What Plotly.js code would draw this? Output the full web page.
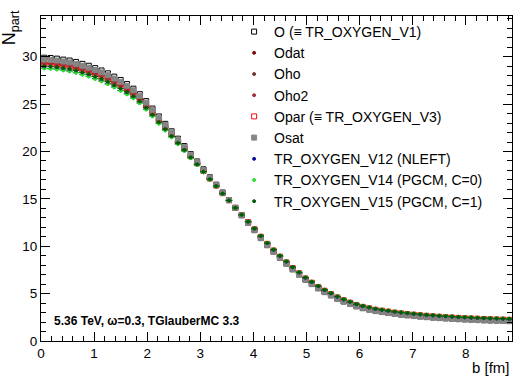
<!DOCTYPE html>
<html>
<head>
<meta charset="utf-8">
<script src="https://cdn.plot.ly/plotly-3.0.1.min.js"></script>
<style>
  html, body { margin: 0; padding: 0; background: #fff; }
  #plot { width: 523px; height: 379px; }
</style>
</head>
<body>
<div id="plot"></div>
<script>
// bin centres of b [fm]
const bCentres = [0.06,0.18,0.30,0.42,0.54,0.66,0.78,0.90,1.02,1.14,1.26,1.38,1.50,1.62,1.74,1.86,1.98,2.10,2.22,2.34,2.46,2.58,2.70,2.82,2.94,3.06,3.18,3.30,3.42,3.54,3.66,3.78,3.90,4.02,4.14,4.26,4.38,4.50,4.62,4.74,4.86,4.98,5.10,5.22,5.34,5.46,5.58,5.70,5.82,5.94,6.06,6.18,6.30,6.42,6.54,6.66,6.78,6.90,7.02,7.14,7.26,7.38,7.50,7.62,7.74,7.86,7.98,8.10,8.22,8.34,8.46,8.58,8.70,8.82];

const npartO = [29.90,29.87,29.80,29.70,29.60,29.45,29.25,29.05,28.80,28.55,28.25,27.90,27.55,27.12,26.63,26.05,25.32,24.53,23.70,22.92,22.13,21.35,20.57,19.73,18.95,18.12,17.28,16.50,15.67,14.88,14.05,13.27,12.49,11.71,10.88,10.13,9.43,8.78,8.18,7.58,7.03,6.48,6.03,5.58,5.18,4.83,4.48,4.18,3.93,3.68,3.48,3.33,3.18,3.08,2.98,2.88,2.80,2.73,2.66,2.60,2.54,2.49,2.44,2.40,2.36,2.32,2.29,2.26,2.23,2.20,2.18,2.16,2.14,2.12];
const npartOdat = [29.33,29.30,29.23,29.13,29.03,28.88,28.68,28.48,28.23,27.98,27.68,27.33,26.98,26.58,26.13,25.57,24.87,24.12,23.32,22.57,21.82,21.07,20.31,19.51,18.76,17.96,17.16,16.41,15.60,14.85,14.05,13.30,12.55,11.80,11.00,10.25,9.55,8.90,8.30,7.70,7.15,6.60,6.15,5.70,5.30,4.95,4.60,4.30,4.05,3.80,3.60,3.45,3.30,3.20,3.10,3.00,2.92,2.85,2.78,2.72,2.66,2.61,2.56,2.52,2.48,2.44,2.41,2.38,2.35,2.32,2.30,2.28,2.26,2.24];
const npartOho = [29.40,29.37,29.30,29.20,29.10,28.95,28.75,28.55,28.30,28.05,27.75,27.40,27.05,26.64,26.19,25.63,24.93,24.17,23.37,22.61,21.86,21.10,20.34,19.54,18.78,17.98,17.17,16.42,15.61,14.86,14.05,13.29,12.53,11.78,10.97,10.22,9.52,8.87,8.27,7.67,7.12,6.57,6.12,5.67,5.27,4.92,4.57,4.27,4.02,3.77,3.57,3.42,3.27,3.17,3.07,2.97,2.89,2.82,2.75,2.69,2.63,2.58,2.53,2.49,2.45,2.41,2.38,2.35,2.32,2.29,2.27,2.25,2.23,2.21];
const npartOho2 = [29.24,29.21,29.14,29.04,28.94,28.79,28.59,28.39,28.14,27.89,27.59,27.24,26.89,26.49,26.05,25.50,24.80,24.06,23.26,22.51,21.77,21.02,20.27,19.48,18.73,17.93,17.14,16.39,15.59,14.85,14.05,13.30,12.56,11.82,11.02,10.27,9.57,8.92,8.32,7.72,7.17,6.62,6.17,5.72,5.32,4.97,4.62,4.32,4.07,3.82,3.62,3.47,3.32,3.22,3.12,3.02,2.94,2.87,2.80,2.74,2.68,2.63,2.58,2.54,2.50,2.46,2.43,2.40,2.37,2.34,2.32,2.30,2.28,2.26];
const npartOpar = [29.30,29.27,29.20,29.10,29.00,28.85,28.65,28.45,28.20,27.95,27.65,27.30,26.95,26.55,26.10,25.55,24.85,24.10,23.30,22.55,21.80,21.05,20.30,19.50,18.75,17.95,17.15,16.40,15.60,14.85,14.05,13.30,12.55,11.80,11.00,10.25,9.55,8.90,8.30,7.70,7.15,6.60,6.15,5.70,5.30,4.95,4.60,4.30,4.05,3.80,3.60,3.45,3.30,3.20,3.10,3.00,2.92,2.85,2.78,2.72,2.66,2.61,2.56,2.52,2.48,2.44,2.41,2.38,2.35,2.32,2.30,2.28,2.26,2.24];
const npartOsat = [29.70,29.67,29.60,29.50,29.40,29.25,29.05,28.85,28.60,28.35,28.05,27.70,27.35,26.93,26.46,25.88,25.16,24.39,23.57,22.79,22.02,21.25,20.48,19.66,18.88,18.06,17.24,16.47,15.64,14.87,14.05,13.26,12.47,11.69,10.85,10.10,9.40,8.75,8.15,7.55,7.00,6.45,6.00,5.55,5.15,4.80,4.45,4.15,3.90,3.65,3.45,3.30,3.15,3.05,2.95,2.85,2.77,2.70,2.63,2.57,2.51,2.46,2.41,2.37,2.33,2.29,2.26,2.23,2.20,2.17,2.15,2.13,2.11,2.09];
const npartV12 = [28.80,28.77,28.70,28.60,28.50,28.35,28.15,27.95,27.70,27.45,27.15,26.80,26.45,26.08,25.66,25.13,24.46,23.74,22.97,22.24,21.52,20.80,20.08,19.31,18.58,17.81,17.04,16.32,15.54,14.82,14.05,13.32,12.59,11.86,11.08,10.33,9.63,8.98,8.38,7.78,7.23,6.68,6.23,5.78,5.38,5.03,4.68,4.38,4.13,3.88,3.68,3.53,3.38,3.28,3.18,3.08,3.00,2.93,2.86,2.80,2.74,2.69,2.64,2.60,2.56,2.52,2.49,2.46,2.43,2.40,2.38,2.36,2.34,2.32];
const npartV14 = [28.75,28.72,28.65,28.55,28.45,28.30,28.10,27.90,27.65,27.40,27.10,26.75,26.40,26.03,25.61,25.09,24.42,23.70,22.93,22.21,21.49,20.77,20.06,19.29,18.57,17.80,17.03,16.31,15.54,14.82,14.05,13.33,12.61,11.89,11.12,10.37,9.67,9.02,8.42,7.82,7.27,6.72,6.27,5.82,5.42,5.07,4.72,4.42,4.17,3.92,3.72,3.57,3.42,3.32,3.22,3.12,3.04,2.97,2.90,2.84,2.78,2.73,2.68,2.64,2.60,2.56,2.53,2.50,2.47,2.44,2.42,2.40,2.38,2.36];
const npartV15 = [29.00,28.97,28.90,28.80,28.70,28.55,28.35,28.15,27.90,27.65,27.35,27.00,26.65,26.27,25.83,25.30,24.62,23.88,23.10,22.37,21.63,20.90,20.17,19.38,18.65,17.87,17.08,16.35,15.57,14.83,14.05,13.33,12.60,11.88,11.10,10.35,9.65,9.00,8.40,7.80,7.25,6.70,6.25,5.80,5.40,5.05,4.70,4.40,4.15,3.90,3.70,3.55,3.40,3.30,3.20,3.10,3.02,2.95,2.88,2.82,2.76,2.71,2.66,2.62,2.58,2.54,2.51,2.48,2.45,2.42,2.40,2.38,2.36,2.34];

const seriesNames = ['O (\u2261 TR_OXYGEN_V1)', 'Odat', 'Oho', 'Oho2', 'Opar (\u2261 TR_OXYGEN_V3)', 'Osat',
  'TR_OXYGEN_V12 (NLEFT)', 'TR_OXYGEN_V14 (PGCM, C=0)', 'TR_OXYGEN_V15 (PGCM, C=1)'];
const seriesValues = [npartO, npartOdat, npartOho, npartOho2, npartOpar, npartOsat, npartV12, npartV14, npartV15];

const styles = [
  { color: '#000000', symbol: 'square-open', size: 5, err: false },
  { color: '#7a0c0c', symbol: 'circle', size: 3, err: true },
  { color: '#7a3535', symbol: 'circle', size: 3, err: true },
  { color: '#a0303c', symbol: 'circle', size: 3, err: true },
  { color: '#ee1111', symbol: 'square-open', size: 5, err: false },
  { color: '#858585', symbol: 'square', size: 5, err: true },
  { color: '#0a0a9a', symbol: 'circle', size: 3, err: true },
  { color: '#33dd33', symbol: 'circle', size: 3, err: true },
  { color: '#045a04', symbol: 'circle', size: 3, err: true }
];

const data = seriesValues.map((vals, k) => {
  const s = styles[k];
  const tr = {
    type: 'scatter',
    mode: 'markers',
    x: bCentres,
    y: vals,
    name: seriesNames[k],
    marker: { color: s.color, symbol: s.symbol, size: s.size, line: { color: s.color, width: 1 } },
    hoverinfo: 'skip'
  };
  if (s.err) {
    tr.error_x = { type: 'constant', value: 0.06, width: 0, thickness: 1, color: s.color };
  }
  return tr;
});

const font = 'Liberation Sans, Arial, Helvetica, sans-serif';

const layout = {
  width: 523,
  height: 379,
  margin: { l: 41, r: 11, t: 16, b: 38 },
  paper_bgcolor: '#fff',
  plot_bgcolor: '#fff',
  font: { family: font, size: 12, color: '#000' },
  showlegend: true,
  legend: {
    x: 0.41, y: 1.0, xanchor: 'left', yanchor: 'top',
    bgcolor: 'rgba(0,0,0,0)', borderwidth: 0,
    font: { family: font, size: 14, color: '#000' },
    itemwidth: 30
  },
  xaxis: {
    range: [0, 8.87],
    showgrid: false, zeroline: false,
    showline: true, linecolor: '#000', linewidth: 1, mirror: 'ticks',
    ticks: 'inside', ticklen: 9, tickcolor: '#000',
    dtick: 1, tick0: 0,
    minor: { ticks: 'inside', ticklen: 5, dtick: 0.2, tickcolor: '#000' },
    tickfont: { family: font, size: 13.5, color: '#000' }
  },
  yaxis: {
    range: [0, 34.3],
    showgrid: false, zeroline: false,
    showline: true, linecolor: '#000', linewidth: 1, mirror: 'ticks',
    ticks: 'inside', ticklen: 9, tickcolor: '#000',
    dtick: 5, tick0: 0,
    minor: { ticks: 'inside', ticklen: 5, dtick: 1, tickcolor: '#000' },
    tickfont: { family: font, size: 13.5, color: '#000' }
  },
  annotations: [
    {
      text: 'N<sub>part</sub>', xref: 'paper', yref: 'paper',
      x: -0.064, y: 0.965, xanchor: 'center', yanchor: 'middle',
      textangle: -90, showarrow: false,
      font: { family: font, size: 18, color: '#000' }
    },
    {
      text: 'b [fm]', xref: 'paper', yref: 'paper',
      x: 1, y: -0.08, xanchor: 'right', yanchor: 'middle',
      showarrow: false, font: { family: font, size: 15, color: '#000' }
    },
    {
      text: '<b>5.36 TeV, \u03c9=0.3, TGlauberMC 3.3</b>', xref: 'paper', yref: 'paper',
      x: 0.024, y: 0.062, xanchor: 'left', yanchor: 'middle',
      showarrow: false, font: { family: font, size: 12, color: '#000' }
    }
  ]
};

Plotly.newPlot('plot', data, layout, { displayModeBar: false, staticPlot: true });
</script>
</body>
</html>
